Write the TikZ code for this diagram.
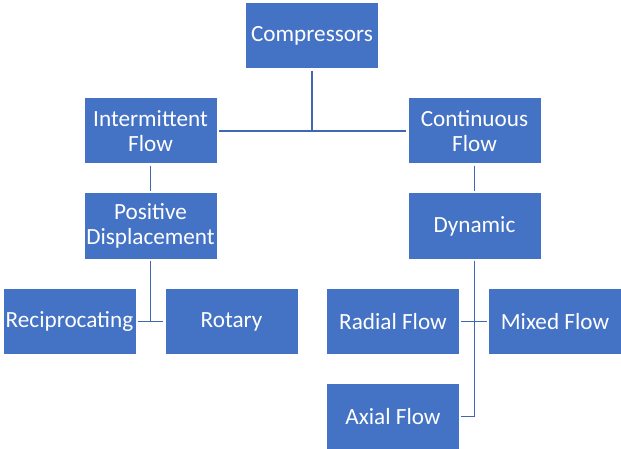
\documentclass[tikz,border=0pt]{standalone}
\usepackage{fontspec}
\setmainfont{Carlito}
\definecolor{boxfill}{HTML}{4472C4}
\definecolor{linkcol}{HTML}{3F67B2}
\begin{document}
\begin{tikzpicture}[x=1pt,y=-1pt,
  box/.style={fill=boxfill, draw=none, minimum width=132pt, minimum height=65pt, inner sep=0pt,
    text=white, align=center, font=\fontsize{23.2}{25}\selectfont},
  link/.style={draw=linkcol, line width=1.6pt, shorten >=2pt, shorten <=2pt}]
\useasboundingbox (0,0) rectangle (621,449);
\node[box] (comp) at (312,36) {Compressors};
\node[box] (inter) at (150.5,131) {Intermittent\\Flow};
\node[box] (cont) at (474.5,131) {Continuous\\Flow};
\node[box] (pos) at (150.5,226) {Positive\\Displacement};
\node[box] (dyn) at (474.5,226) {Dynamic};
\node[box] (recip) at (69.5,321.5) {Reciprocating};
\node[box] (rot) at (231.5,321.5) {Rotary};
\node[box] (rad) at (393,321.5) {Radial Flow};
\node[box] (mix) at (555,321.5) {Mixed Flow};
\node[box] (axial) at (393,416.5) {Axial Flow};
\draw[link, shorten >=0pt] (comp.south) -- (comp.south |- inter.east);
\draw[link] (inter.east) -- (cont.west);
\draw[link] (inter.south) -- (pos.north);
\draw[link] (cont.south) -- (dyn.north);
\draw[link, shorten >=0pt] (pos.south) -- (pos.south |- recip.east);
\draw[link] (recip.east) -- (rot.west);
\draw[link] (dyn.south) -- (dyn.south |- axial.east) -- (axial.east);
\draw[link] (rad.east) -- (mix.west);
\end{tikzpicture}
\end{document}
